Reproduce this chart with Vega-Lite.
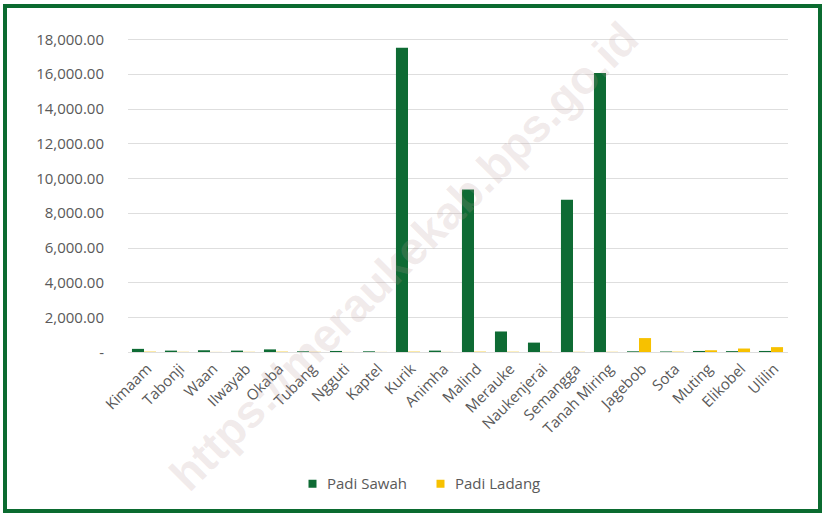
{
  "$schema": "https://vega.github.io/schema/vega-lite/v6.json",
  "autosize": {"type": "none"},
  "padding": {"left": 5, "top": 6, "right": 2, "bottom": 2},
  "width": 815,
  "height": 505,
  "background": "white",
  "view": {"stroke": "#0b6b30", "strokeWidth": 4, "fill": "white"},
  "title": {
    "text": "https://meraukekab.bps.go.id",
    "orient": "none",
    "anchor": "start",
    "angle": -45,
    "dx": 105,
    "dy": 461,
    "align": "center",
    "baseline": "middle",
    "offset": 0,
    "font": "Liberation Sans",
    "fontSize": 46,
    "fontWeight": "bold",
    "color": "rgba(185,150,150,0.2)"
  },
  "data": {
    "values": [
      {"kecamatan": "Kimaam", "jenis": "Padi Sawah", "luas": 180},
      {"kecamatan": "Kimaam", "jenis": "Padi Ladang", "luas": 20},
      {"kecamatan": "Tabonji", "jenis": "Padi Sawah", "luas": 80},
      {"kecamatan": "Tabonji", "jenis": "Padi Ladang", "luas": 10},
      {"kecamatan": "Waan", "jenis": "Padi Sawah", "luas": 100},
      {"kecamatan": "Waan", "jenis": "Padi Ladang", "luas": 5},
      {"kecamatan": "Ilwayab", "jenis": "Padi Sawah", "luas": 80},
      {"kecamatan": "Ilwayab", "jenis": "Padi Ladang", "luas": 10},
      {"kecamatan": "Okaba", "jenis": "Padi Sawah", "luas": 150},
      {"kecamatan": "Okaba", "jenis": "Padi Ladang", "luas": 20},
      {"kecamatan": "Tubang", "jenis": "Padi Sawah", "luas": 40},
      {"kecamatan": "Tubang", "jenis": "Padi Ladang", "luas": 10},
      {"kecamatan": "Ngguti", "jenis": "Padi Sawah", "luas": 60},
      {"kecamatan": "Ngguti", "jenis": "Padi Ladang", "luas": 5},
      {"kecamatan": "Kaptel", "jenis": "Padi Sawah", "luas": 40},
      {"kecamatan": "Kaptel", "jenis": "Padi Ladang", "luas": 5},
      {"kecamatan": "Kurik", "jenis": "Padi Sawah", "luas": 17500},
      {"kecamatan": "Kurik", "jenis": "Padi Ladang", "luas": 20},
      {"kecamatan": "Animha", "jenis": "Padi Sawah", "luas": 80},
      {"kecamatan": "Animha", "jenis": "Padi Ladang", "luas": 5},
      {"kecamatan": "Malind", "jenis": "Padi Sawah", "luas": 9350},
      {"kecamatan": "Malind", "jenis": "Padi Ladang", "luas": 20},
      {"kecamatan": "Merauke", "jenis": "Padi Sawah", "luas": 1180},
      {"kecamatan": "Merauke", "jenis": "Padi Ladang", "luas": 20},
      {"kecamatan": "Naukenjerai", "jenis": "Padi Sawah", "luas": 540},
      {"kecamatan": "Naukenjerai", "jenis": "Padi Ladang", "luas": 10},
      {"kecamatan": "Semangga", "jenis": "Padi Sawah", "luas": 8750},
      {"kecamatan": "Semangga", "jenis": "Padi Ladang", "luas": 10},
      {"kecamatan": "Tanah Miring", "jenis": "Padi Sawah", "luas": 16050},
      {"kecamatan": "Tanah Miring", "jenis": "Padi Ladang", "luas": 10},
      {"kecamatan": "Jagebob", "jenis": "Padi Sawah", "luas": 40},
      {"kecamatan": "Jagebob", "jenis": "Padi Ladang", "luas": 800},
      {"kecamatan": "Sota", "jenis": "Padi Sawah", "luas": 30},
      {"kecamatan": "Sota", "jenis": "Padi Ladang", "luas": 20},
      {"kecamatan": "Muting", "jenis": "Padi Sawah", "luas": 60},
      {"kecamatan": "Muting", "jenis": "Padi Ladang", "luas": 100},
      {"kecamatan": "Elikobel", "jenis": "Padi Sawah", "luas": 50},
      {"kecamatan": "Elikobel", "jenis": "Padi Ladang", "luas": 200},
      {"kecamatan": "Ulilin", "jenis": "Padi Sawah", "luas": 60},
      {"kecamatan": "Ulilin", "jenis": "Padi Ladang", "luas": 280}
    ]
  },
  "mark": {"type": "bar"},
  "encoding": {
    "x": {
      "field": "kecamatan",
      "type": "nominal",
      "sort": null,
      "title": null,
      "scale": {"range": [122.5, 782.5], "paddingInner": 0.27, "paddingOuter": 0.135},
      "axis": {
        "orient": "bottom",
        "offset": -159,
        "labelAngle": -45,
        "labelAlign": "right",
        "labelBaseline": "top",
        "labelPadding": 9,
        "labelFont": "Open Sans",
        "labelFontSize": 15,
        "labelColor": "#595959",
        "domain": false,
        "ticks": false,
        "grid": false
      }
    },
    "xOffset": {
      "field": "jenis",
      "type": "nominal",
      "scale": {"domain": ["Padi Sawah", "Padi Ladang"], "paddingInner": 0}
    },
    "y": {
      "field": "luas",
      "type": "quantitative",
      "title": null,
      "scale": {"domain": [0, 18000], "range": [346, 33], "nice": false},
      "axis": {
        "offset": -122.5,
        "values": [0, 2000, 4000, 6000, 8000, 10000, 12000, 14000, 16000, 18000],
        "labelExpr": "datum.value == 0 ? '-' : format(datum.value, ',.2f')",
        "labelPadding": 24,
        "labelFont": "Open Sans",
        "labelFontSize": 15,
        "labelColor": "#595959",
        "domain": false,
        "ticks": false,
        "gridColor": "#dedede",
        "gridWidth": 1
      }
    },
    "color": {
      "field": "jenis",
      "type": "nominal",
      "scale": {"domain": ["Padi Sawah", "Padi Ladang"], "range": ["#0e6b34", "#f7c100"]},
      "legend": {
        "orient": "none",
        "legendX": 300,
        "legendY": 470,
        "direction": "horizontal",
        "title": null,
        "symbolType": "square",
        "symbolSize": 64,
        "symbolStrokeWidth": 0,
        "labelFont": "Open Sans",
        "labelFontSize": 15,
        "labelColor": "#595959",
        "labelOffset": 7,
        "columnPadding": 26
      }
    }
  }
}
